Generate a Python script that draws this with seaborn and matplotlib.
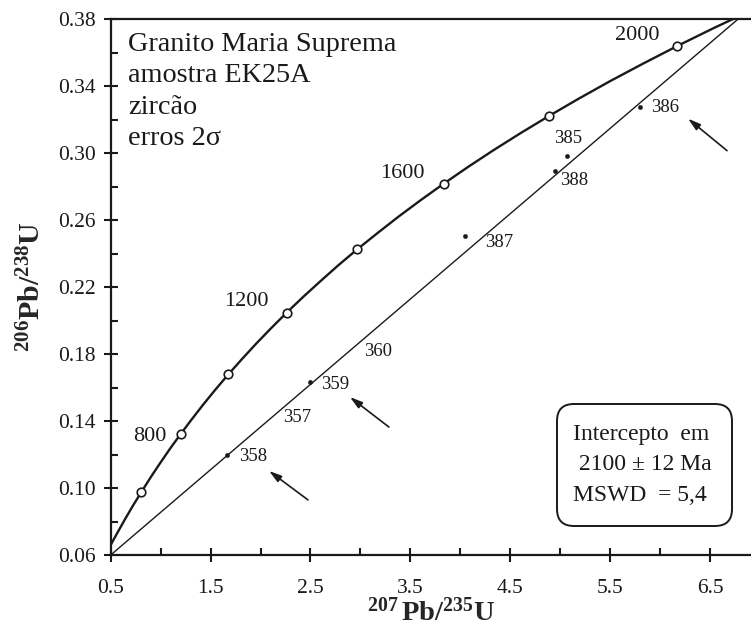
import matplotlib
matplotlib.use("Agg")
import matplotlib.pyplot as plt
from matplotlib.patches import FancyBboxPatch
import seaborn as sns
import pandas as pd

# ---- data ----
# concordia curve 207Pb/235U vs 206Pb/238U, ages ~412..2100 Ma (50 Ma steps)
conc_x = [0.500, 0.558, 0.636, 0.719, 0.806, 0.897, 0.993, 1.093, 1.199, 1.310,
          1.426, 1.549, 1.677, 1.813, 1.955, 2.104, 2.260, 2.425, 2.598, 2.779,
          2.970, 3.171, 3.381, 3.602, 3.834, 4.078, 4.335, 4.604, 4.887, 5.184,
          5.496, 5.824, 6.169, 6.530, 6.911]
conc_y = [0.0660, 0.0723, 0.0806, 0.0891, 0.0975, 0.1061, 0.1147, 0.1234, 0.1321, 0.1409,
          0.1498, 0.1588, 0.1678, 0.1769, 0.1861, 0.1953, 0.2046, 0.2140, 0.2234, 0.2330,
          0.2426, 0.2522, 0.2620, 0.2718, 0.2817, 0.2917, 0.3018, 0.3119, 0.3221, 0.3324,
          0.3428, 0.3532, 0.3638, 0.3744, 0.3851]
# age markers on concordia (Ma)
mark_age = [600, 800, 1000, 1200, 1400, 1600, 1800, 2000]
mark_x = [0.806, 1.199, 1.677, 2.260, 2.970, 3.834, 4.887, 6.169]
mark_y = [0.0975, 0.1321, 0.1678, 0.2046, 0.2426, 0.2817, 0.3221, 0.3638]
age_labels = ["800", "1200", "1600", "2000"]
age_label_x = [0.893, 1.854, 3.423, 5.775]
age_label_y = [0.131, 0.2112, 0.2879, 0.3704]
# discordia line
disc_x = [0.50, 6.85]
disc_y = [0.060, 0.3835]
# analyses
spot_names = ["358", "359", "387", "388", "385", "386"]
spot_x = [1.66, 2.495, 4.047, 4.947, 5.063, 5.80]
spot_y = [0.1197, 0.1631, 0.2505, 0.2893, 0.2984, 0.3275]
# spot labels
lab_names = ["385", "388", "387", "386", "360", "359", "357", "358"]
lab_x = [5.077, 5.137, 4.387, 6.048, 3.176, 2.745, 2.362, 1.921]
lab_y = [0.3084, 0.2833, 0.2463, 0.3269, 0.1812, 0.1615, 0.1418, 0.1187]
# arrows (head, tail)
arrow_head_x = [6.28, 2.895, 2.085]
arrow_head_y = [0.3205, 0.1543, 0.1102]
arrow_tail_x = [6.67, 3.285, 2.475]
arrow_tail_y = [0.3014, 0.1364, 0.0929]
x_ticks = [0.5, 1.5, 2.5, 3.5, 4.5, 5.5, 6.5]
y_ticks = [0.06, 0.10, 0.14, 0.18, 0.22, 0.26, 0.30, 0.34, 0.38]

sns.set_style("ticks")
plt.rcParams['font.family'] = ['Liberation Serif', 'DejaVu Serif']
plt.rcParams['mathtext.fontset'] = 'custom'
plt.rcParams['mathtext.rm'] = 'Liberation Serif'
plt.rcParams['mathtext.bf'] = 'Liberation Serif:bold'
plt.rcParams['mathtext.it'] = 'Liberation Serif:italic'

ink = "#1a1a1a"
fig = plt.figure(figsize=(7.51, 6.34), dpi=100)
ax = fig.add_axes([0.1474, 0.1246, 1 - 0.1474, 0.970 - 0.1246])

conc = pd.DataFrame({"x": conc_x, "y": conc_y})
sns.lineplot(data=conc, x="x", y="y", sort=False, color=ink, lw=1.7, ax=ax)
disc = pd.DataFrame({"x": disc_x, "y": disc_y})
sns.lineplot(data=disc, x="x", y="y", sort=False, color=ink, lw=1.0, ax=ax)
marks = pd.DataFrame({"x": mark_x, "y": mark_y})
sns.scatterplot(data=marks, x="x", y="y", s=38, facecolor="white", edgecolor=ink,
                linewidth=1.2, zorder=5, ax=ax)
spots = pd.DataFrame({"x": spot_x, "y": spot_y})
sns.scatterplot(data=spots, x="x", y="y", s=10, color=ink, marker="o",
                edgecolor=ink, zorder=5, ax=ax)

for t, x, y in zip(age_labels, age_label_x, age_label_y):
    ax.text(x, y, t, fontsize=16, ha="center", va="center", color=ink)
for t, x, y in zip(lab_names, lab_x, lab_y):
    ax.text(x, y, t, fontsize=13.5, ha="center", va="center", color=ink)
for hx, hy, tx, ty in zip(arrow_head_x, arrow_head_y, arrow_tail_x, arrow_tail_y):
    ax.annotate("", xy=(hx, hy), xytext=(tx, ty),
                arrowprops=dict(arrowstyle="-|>,head_width=0.22,head_length=0.75",
                                color=ink, lw=1.2, shrinkA=0, shrinkB=0))

ax.text(0.673, 0.3722, "Granito Maria Suprema\namostra EK25A\nzircão\nerros 2σ",
        fontsize=20.3, ha="left", va="top", linespacing=1.33, color=ink)

box = FancyBboxPatch((5.57, 1.08), 1.75, 1.22, boxstyle="round,pad=0,rounding_size=0.17",
                     transform=fig.dpi_scale_trans, fc="white", ec=ink, lw=1.4,
                     zorder=6)
fig.patches.append(box)
fig.text(6.42 / 7.51, 1.69 / 6.34, "Intercepto  em\n 2100 ± 12 Ma\nMSWD  = 5,4",
         fontsize=17, ha="center", va="center", multialignment="left",
         linespacing=1.6, color=ink, zorder=7)

ax.set_xlim(0.5, 6.91)
ax.set_ylim(0.06, 0.38)
ax.set_xticks(x_ticks)
ax.set_xticklabels([f"{v:.1f}" for v in x_ticks])
ax.set_yticks(y_ticks)
ax.set_yticklabels([f"{v:.2f}" for v in y_ticks])
ax.set_xticks([1.0, 2.0, 3.0, 4.0, 5.0, 6.0], minor=True)
ax.set_yticks([0.08, 0.12, 0.16, 0.20, 0.24, 0.28, 0.32, 0.36], minor=True)
ax.tick_params(which="major", direction="inout", length=10, width=1.5, labelsize=15.5,
               colors=ink)
ax.tick_params(axis="x", which="major", pad=12)
ax.tick_params(axis="y", which="major", pad=6)
ax.tick_params(which="minor", direction="in", length=5, width=1.5, colors=ink)
for s in ["left", "bottom", "top"]:
    ax.spines[s].set_linewidth(1.6)
    ax.spines[s].set_color(ink)
ax.spines["right"].set_visible(False)

ax.set_xlabel(r"$\mathbf{^{207}\,Pb/^{235}U}$", fontsize=20.5, labelpad=0)
ax.set_ylabel(r"$\mathbf{^{206}Pb/^{238}U}$", fontsize=21.5, labelpad=8)

fig.savefig("out.png", dpi=100)
